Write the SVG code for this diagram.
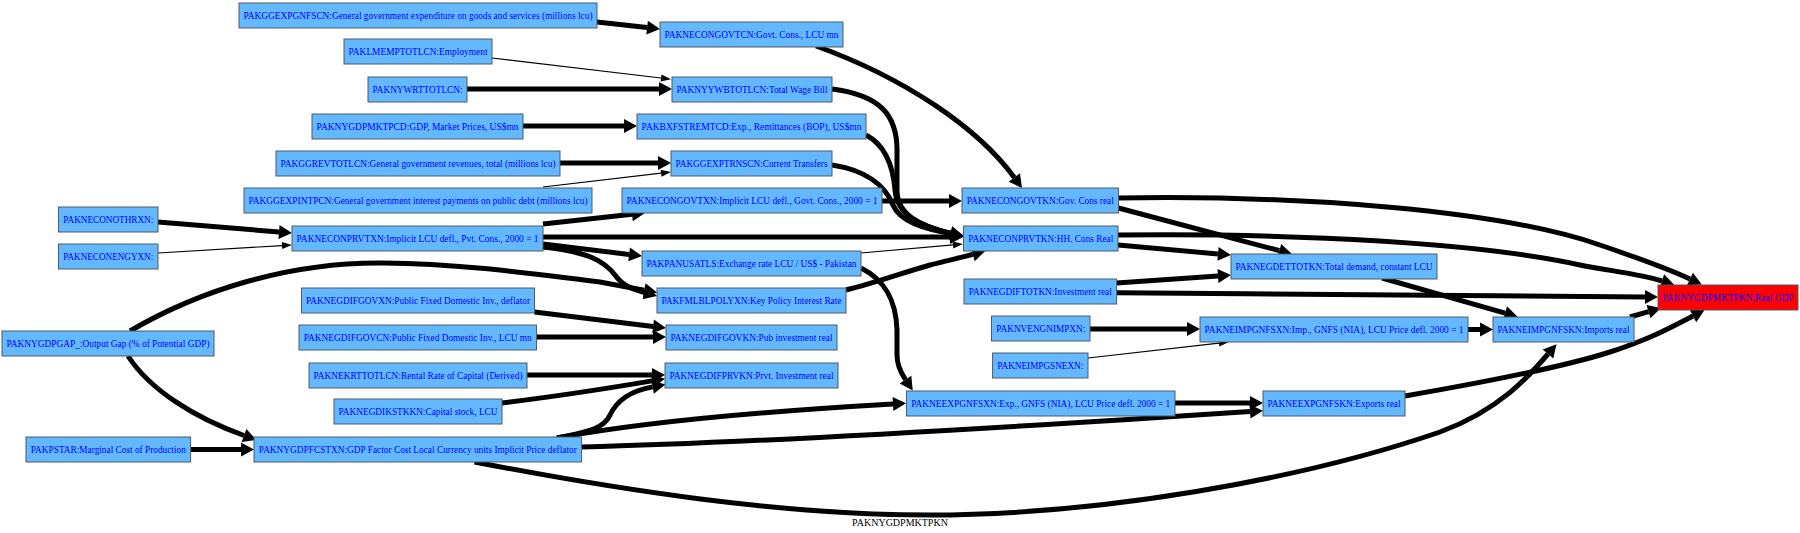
<svg xmlns="http://www.w3.org/2000/svg" width="1800" height="533" viewBox="0 0 1800 533">
<defs>
<style>
.n rect{fill:#63b8ff;stroke:#4f5b66;stroke-width:1}
.n.r rect{fill:#ff0000}
.n text{font-family:"Liberation Serif","Times New Roman",serif;font-size:10px;fill:#0000ff;text-anchor:middle}
.e path{fill:none;stroke:#000;stroke-linecap:butt}
.k{stroke-width:5;marker-end:url(#ah)}
.t{stroke-width:1.2;marker-end:url(#at)}
.lbl{font-family:"Liberation Serif","Times New Roman",serif;font-size:10px;fill:#000;text-anchor:middle}
</style>
<marker id="ah" markerWidth="13" markerHeight="14" refX="0" refY="7" orient="auto" markerUnits="userSpaceOnUse" overflow="visible"><path d="M0,0 L13,7 L0,14 z" fill="#000"/></marker>
<marker id="at" markerWidth="10" markerHeight="7" refX="0" refY="3.5" orient="auto" markerUnits="userSpaceOnUse" overflow="visible"><path d="M0,0 L10,3.5 L0,7 z" fill="#000"/></marker>
</defs>
<rect width="1800" height="533" fill="#fff"/>
<g id="edges" class="e">
<path class="k" d="M597,22 L647.1,27.6"/>
<path class="t" d="M492,58 L661.1,78"/>
<path class="k" d="M467,89 L659,89"/>
<path class="k" d="M523,126 L624,126"/>
<path class="k" d="M560,163 L658,163"/>
<path class="t" d="M543,187 L661.1,173.2"/>
<path class="k" d="M816,46 C905,78 978,128 1014.3,177.5"/>
<path class="k" d="M832,89 C880,95 897,115 897,150 L897,190 C897,215 920,226 950.8,233.4"/>
<path class="k" d="M866,135 C885,145 893,165 895,190 C897,215 920,226 950.8,233.4"/>
<path class="k" d="M832,165 C865,170 885,185 893,205 C900,222 925,229 950.8,233.4"/>
<path class="k" d="M158,222 L279,232"/>
<path class="t" d="M158,253 L282,245.6"/>
<path class="k" d="M543,224 L632,214.3"/>
<path class="k" d="M543,237 L950,237"/>
<path class="k" d="M543,244 L629.1,254.4"/>
<path class="k" d="M543,247 C590,252 605,262 615,275 C623,286 632,289 644.5,292.5"/>
<path class="k" d="M130,331 C200,290 290,262 383,263 C470,264 540,275 600,282 L644.3,290.2"/>
<path class="k" d="M882,201 L949,201"/>
<path class="t" d="M861,253 L953,244.9"/>
<path class="k" d="M861,268 C885,280 896,300 897,330 L897,355 C897,365 901,373 905.5,379.7"/>
<path class="k" d="M846,290 C875,283 905,272 930,265 C945,261 960,258 972.8,254.4"/>
<path class="k" d="M128,356 C150,390 195,418 244,435.5"/>
<path class="k" d="M190.6,449.5 L241,449.5"/>
<path class="k" d="M534.5,312 L653.1,326.4"/>
<path class="k" d="M536.5,337 L653,337"/>
<path class="k" d="M527,375 L652,375"/>
<path class="k" d="M502,403 C560,396 610,388 652.1,380.9"/>
<path class="k" d="M557,438 C585,432 603,430 610,415 C617,400 630,391 652.6,386.9"/>
<path class="k" d="M557,438 C600,430 700,415 893,404"/>
<path class="k" d="M581.6,447 C750,443 1000,428 1250,411.5"/>
<path class="k" d="M474.5,462 C620,490 780,515 929,515 C1100,515 1300,480 1440,432 C1500,410 1530,375 1548,354"/>
<path class="k" d="M1405,396 C1480,383 1560,368 1610,352 C1650,339 1672,327 1693,316"/>
<path class="k" d="M1630,317 L1648.5,311.6"/>
<path class="k" d="M1468,329.5 L1480,329.5"/>
<path class="k" d="M1090,329 L1187,329"/>
<path class="t" d="M1088,358 L1219,343.1"/>
<path class="k" d="M1382,278 L1505.1,313.1"/>
<path class="k" d="M1116.6,292.7 C1300,294 1500,296 1645,297"/>
<path class="k" d="M1116.6,283 L1218,275.9"/>
<path class="k" d="M1118,245 L1218,253.9"/>
<path class="k" d="M1118.5,208 L1279.4,250.7"/>
<path class="k" d="M1118.5,198 C1300,195 1500,210 1600,245 C1650,262 1675,272 1690,279"/>
<path class="k" d="M1118,235 C1300,233 1480,243 1580,265 C1610,271 1640,274 1662,281"/>
<path class="k" d="M1175,403 L1250,403"/>
</g>
<g id="PAKGGEXPGNFSCN" class="n"><rect x="239" y="3" width="358" height="25"/><text x="418" y="19" textLength="349" lengthAdjust="spacingAndGlyphs">PAKGGEXPGNFSCN:General government expenditure on goods and services (millions lcu)</text></g>
<g id="PAKLMEMPTOTLCN" class="n"><rect x="344" y="39" width="148" height="25"/><text x="418" y="55" textLength="139" lengthAdjust="spacingAndGlyphs">PAKLMEMPTOTLCN:Employment</text></g>
<g id="PAKNYWRTTOTLCN" class="n"><rect x="368" y="77" width="99" height="25"/><text x="417.5" y="93" textLength="90" lengthAdjust="spacingAndGlyphs">PAKNYWRTTOTLCN:</text></g>
<g id="PAKNYGDPMKTPCD" class="n"><rect x="312" y="114" width="211" height="25"/><text x="417.5" y="130" textLength="202" lengthAdjust="spacingAndGlyphs">PAKNYGDPMKTPCD:GDP, Market Prices, US$mn</text></g>
<g id="PAKGGREVTOTLCN" class="n"><rect x="276" y="151" width="284" height="25"/><text x="418" y="167" textLength="275" lengthAdjust="spacingAndGlyphs">PAKGGREVTOTLCN:General government revenues, total (millions lcu)</text></g>
<g id="PAKNECONGOVTCN" class="n"><rect x="660" y="22" width="183" height="25"/><text x="751.5" y="38" textLength="174" lengthAdjust="spacingAndGlyphs">PAKNECONGOVTCN:Govt. Cons., LCU mn</text></g>
<g id="PAKNYYWBTOTLCN" class="n"><rect x="672" y="77" width="160" height="25"/><text x="752" y="93" textLength="151" lengthAdjust="spacingAndGlyphs">PAKNYYWBTOTLCN:Total Wage Bill</text></g>
<g id="PAKBXFSTREMTCD" class="n"><rect x="637" y="114" width="229" height="25"/><text x="751.5" y="130" textLength="220" lengthAdjust="spacingAndGlyphs">PAKBXFSTREMTCD:Exp., Remittances (BOP), US$mn</text></g>
<g id="PAKGGEXPTRNSCN" class="n"><rect x="671" y="151" width="161" height="25"/><text x="751.5" y="167" textLength="152" lengthAdjust="spacingAndGlyphs">PAKGGEXPTRNSCN:Current Transfers</text></g>
<g id="PAKGGEXPINTPCN" class="n"><rect x="244" y="188" width="348" height="25"/><text x="418" y="204" textLength="339" lengthAdjust="spacingAndGlyphs">PAKGGEXPINTPCN:General government interest payments on public debt (millions lcu)</text></g>
<g id="PAKNECONOTHRXN" class="n"><rect x="58.5" y="207" width="99.5" height="25"/><text x="108.25" y="223" textLength="90" lengthAdjust="spacingAndGlyphs">PAKNECONOTHRXN:</text></g>
<g id="PAKNECONENGYXN" class="n"><rect x="58.5" y="244" width="99.5" height="25"/><text x="108.25" y="260" textLength="90" lengthAdjust="spacingAndGlyphs">PAKNECONENGYXN:</text></g>
<g id="PAKNECONPRVTXN" class="n"><rect x="292" y="226" width="251" height="25"/><text x="417.5" y="242" textLength="242" lengthAdjust="spacingAndGlyphs">PAKNECONPRVTXN:Implicit LCU defl., Pvt. Cons., 2000 = 1</text></g>
<g id="PAKNEGDIFGOVXN" class="n"><rect x="301.5" y="288" width="233" height="25"/><text x="418" y="304" textLength="224" lengthAdjust="spacingAndGlyphs">PAKNEGDIFGOVXN:Public Fixed Domestic Inv., deflator</text></g>
<g id="PAKNEGDIFGOVCN" class="n"><rect x="299" y="325" width="237.5" height="25"/><text x="417.75" y="341" textLength="228" lengthAdjust="spacingAndGlyphs">PAKNEGDIFGOVCN:Public Fixed Domestic Inv., LCU mn</text></g>
<g id="PAKNYGDPGAP_" class="n"><rect x="2" y="331" width="212" height="25"/><text x="108" y="347" textLength="203" lengthAdjust="spacingAndGlyphs">PAKNYGDPGAP_:Output Gap (% of Potential GDP)</text></g>
<g id="PAKNECONGOVTXN" class="n"><rect x="622" y="188" width="260" height="25"/><text x="752" y="204" textLength="251" lengthAdjust="spacingAndGlyphs">PAKNECONGOVTXN:Implicit LCU defl., Govt. Cons., 2000 = 1</text></g>
<g id="PAKNECONGOVTKN" class="n"><rect x="962" y="188" width="156.5" height="25"/><text x="1040.25" y="204" textLength="147" lengthAdjust="spacingAndGlyphs">PAKNECONGOVTKN:Gov. Cons real</text></g>
<g id="PAKNECONPRVTKN" class="n"><rect x="963.5" y="226" width="154.5" height="25"/><text x="1040.75" y="242" textLength="145" lengthAdjust="spacingAndGlyphs">PAKNECONPRVTKN:HH. Cons Real</text></g>
<g id="PAKPANUSATLS" class="n"><rect x="642" y="251" width="219" height="25"/><text x="751.5" y="267" textLength="210" lengthAdjust="spacingAndGlyphs">PAKPANUSATLS:Exchange rate LCU / US$ - Pakistan</text></g>
<g id="PAKFMLBLPOLYXN" class="n"><rect x="657" y="288" width="189" height="25"/><text x="751.5" y="304" textLength="180" lengthAdjust="spacingAndGlyphs">PAKFMLBLPOLYXN:Key Policy Interest Rate</text></g>
<g id="PAKNEGDIFTOTKN" class="n"><rect x="964" y="279" width="152.6" height="25"/><text x="1040.3" y="295" textLength="143" lengthAdjust="spacingAndGlyphs">PAKNEGDIFTOTKN:Investment real</text></g>
<g id="PAKNEGDIFGOVKN" class="n"><rect x="666" y="325" width="171" height="25"/><text x="751.5" y="341" textLength="162" lengthAdjust="spacingAndGlyphs">PAKNEGDIFGOVKN:Pub investment real</text></g>
<g id="PAKNVENGNIMPXN" class="n"><rect x="991.5" y="316" width="98.5" height="25"/><text x="1040.75" y="332" textLength="89" lengthAdjust="spacingAndGlyphs">PAKNVENGNIMPXN:</text></g>
<g id="PAKNEGDETTOTKN" class="n"><rect x="1231" y="254" width="206" height="25"/><text x="1334" y="270" textLength="197" lengthAdjust="spacingAndGlyphs">PAKNEGDETTOTKN:Total demand, constant LCU</text></g>
<g id="PAKNYGDPMKTPKN" class="n r"><rect x="1658" y="285" width="140" height="25"/><text x="1728" y="301" textLength="131" lengthAdjust="spacingAndGlyphs">PAKNYGDPMKTPKN:Real GDP</text></g>
<g id="PAKNEIMPGNFSXN" class="n"><rect x="1200" y="317" width="268" height="25"/><text x="1334" y="333" textLength="259" lengthAdjust="spacingAndGlyphs">PAKNEIMPGNFSXN:Imp., GNFS (NIA), LCU Price defl. 2000 = 1</text></g>
<g id="PAKNEIMPGNFSKN" class="n"><rect x="1493" y="317" width="141" height="25"/><text x="1563.5" y="333" textLength="132" lengthAdjust="spacingAndGlyphs">PAKNEIMPGNFSKN:Imports real</text></g>
<g id="PAKNEKRTTOTLCN" class="n"><rect x="309" y="363" width="218" height="25"/><text x="418" y="379" textLength="209" lengthAdjust="spacingAndGlyphs">PAKNEKRTTOTLCN:Rental Rate of Capital (Derived)</text></g>
<g id="PAKNEGDIKSTKKN" class="n"><rect x="334" y="399" width="168" height="25"/><text x="418" y="415" textLength="159" lengthAdjust="spacingAndGlyphs">PAKNEGDIKSTKKN:Capital stock, LCU</text></g>
<g id="PAKPSTAR" class="n"><rect x="26" y="437" width="164.6" height="25"/><text x="108.3" y="453" textLength="155" lengthAdjust="spacingAndGlyphs">PAKPSTAR:Marginal Cost of Production</text></g>
<g id="PAKNYGDPFCSTXN" class="n"><rect x="254" y="437" width="327.6" height="25"/><text x="417.8" y="453" textLength="318" lengthAdjust="spacingAndGlyphs">PAKNYGDPFCSTXN:GDP Factor Cost Local Currency units Implicit Price deflator</text></g>
<g id="PAKNEGDIFPRVKN" class="n"><rect x="665" y="363" width="173" height="25"/><text x="751.5" y="379" textLength="164" lengthAdjust="spacingAndGlyphs">PAKNEGDIFPRVKN:Prvt. Investment real</text></g>
<g id="PAKNEIMPGSNEXN" class="n"><rect x="992.6" y="353" width="95.4" height="25"/><text x="1040.3" y="369" textLength="86" lengthAdjust="spacingAndGlyphs">PAKNEIMPGSNEXN:</text></g>
<g id="PAKNEEXPGNFSXN" class="n"><rect x="906.5" y="391" width="268.5" height="25"/><text x="1040.75" y="407" textLength="259" lengthAdjust="spacingAndGlyphs">PAKNEEXPGNFSXN:Exp., GNFS (NIA), LCU Price defl. 2000 = 1</text></g>
<g id="PAKNEEXPGNFSKN" class="n"><rect x="1263" y="391" width="142" height="25"/><text x="1334" y="407" textLength="133" lengthAdjust="spacingAndGlyphs">PAKNEEXPGNFSKN:Exports real</text></g>
<text class="lbl" x="900" y="526">PAKNYGDPMKTPKN</text>
</svg>
